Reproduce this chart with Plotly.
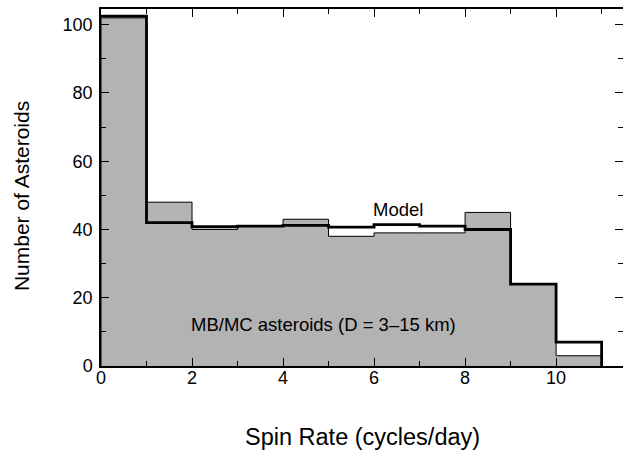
import plotly.graph_objects as go

# Data
bin_edges = [0, 1, 2, 3, 4, 5, 6, 7, 8, 9, 10, 11]
observed = [102, 48, 40, 41, 43, 38, 39, 39, 45, 24, 3]
model = [102.5, 42, 40.8, 41, 41.2, 40.7, 41.4, 41, 40, 24, 7]
x_ticks = [0, 2, 4, 6, 8, 10]
y_ticks = [0, 20, 40, 60, 80, 100]

# step outlines (histogram style)
ox = [bin_edges[0]] + list(bin_edges) + [bin_edges[-1]]
oy = [0] + list(observed) + [observed[-1], 0]
mx = list(bin_edges) + [bin_edges[-1]]
my = list(model) + [model[-1], 0]

FONT = "Liberation Sans, Arial, sans-serif"

fig = go.Figure()
fig.add_trace(go.Scatter(
    x=ox, y=oy, mode="lines", fill="tozeroy", fillcolor="#b3b3b3",
    line=dict(color="black", width=1, shape="hv"),
    showlegend=False, hoverinfo="skip",
))
fig.add_trace(go.Scatter(
    x=mx, y=my, mode="lines", line=dict(color="black", width=2.8, shape="hv"),
    showlegend=False, hoverinfo="skip",
))
# invisible trace to anchor right-side tick axis
fig.add_trace(go.Scatter(x=[0], y=[0], yaxis="y2", mode="markers",
                         marker=dict(opacity=0), showlegend=False, hoverinfo="skip"))

fig.add_annotation(x=6.53, y=45.8, text="Model", showarrow=False,
                   font=dict(size=18.5, color="black", family=FONT))
fig.add_annotation(x=4.89, y=12.3, text="MB/MC asteroids (D = 3–15 km)", showarrow=False,
                   font=dict(size=18.5, color="black", family=FONT))

# axis titles
fig.add_annotation(xref="paper", yref="paper", x=-0.152, y=0.475,
                   text="Number of Asteroids", textangle=-90, showarrow=False,
                   xanchor="center", yanchor="middle",
                   font=dict(size=21, color="black", family=FONT))
fig.add_annotation(xref="paper", yref="paper", x=0.5, y=-0.199,
                   text="Spin Rate (cycles/day)", showarrow=False,
                   xanchor="center", yanchor="middle",
                   font=dict(size=23.5, color="black", family=FONT))

YMAX = 104.6
XMAX = 11.47

fig.update_layout(
    width=623, height=451, autosize=False,
    margin=dict(l=101, r=0, t=9, b=85),
    plot_bgcolor="white", paper_bgcolor="white",
    font=dict(family=FONT, size=18, color="black"),
    xaxis=dict(
        range=[0, XMAX], tickmode="array", tickvals=x_ticks,
        ticks="inside", ticklen=8, tickwidth=1, tickcolor="black",
        minor=dict(dtick=1, tick0=0, ticks="inside", ticklen=5, tickcolor="black"),
        showline=True, linecolor="black", linewidth=1.5, mirror="ticks",
        showgrid=False, zeroline=False, automargin=False,
        tickfont=dict(size=18), ticklabelstandoff=-5,
    ),
    yaxis=dict(
        range=[0, YMAX], tickmode="array", tickvals=y_ticks,
        ticks="inside", ticklen=8, tickwidth=1, tickcolor="black",
        minor=dict(dtick=10, tick0=0, ticks="inside", ticklen=5, tickcolor="black"),
        showline=True, linecolor="black", linewidth=1.5, mirror=False,
        showgrid=False, zeroline=False, automargin=False,
        tickfont=dict(size=18), ticklabelstandoff=3,
    ),
    yaxis2=dict(
        range=[0, YMAX], overlaying="y", side="right", anchor="x",
        tickmode="array", tickvals=y_ticks, showticklabels=False,
        ticks="inside", ticklen=8, tickwidth=1, tickcolor="black",
        minor=dict(dtick=10, tick0=0, ticks="inside", ticklen=5, tickcolor="black"),
        showline=False, showgrid=False, zeroline=False, automargin=False,
    ),
)

post = ("document.documentElement.style.margin='0';"
        "document.body.style.margin='0';"
        "document.documentElement.style.overflow='hidden';"
        "document.body.style.overflow='hidden';"
        "var gd=document.getElementById('{plot_id}');"
        "Plotly.relayout(gd,{width:623,height:451});")

fig.write_html("out.html", config={"responsive": False, "displayModeBar": False},
               post_script=post)
